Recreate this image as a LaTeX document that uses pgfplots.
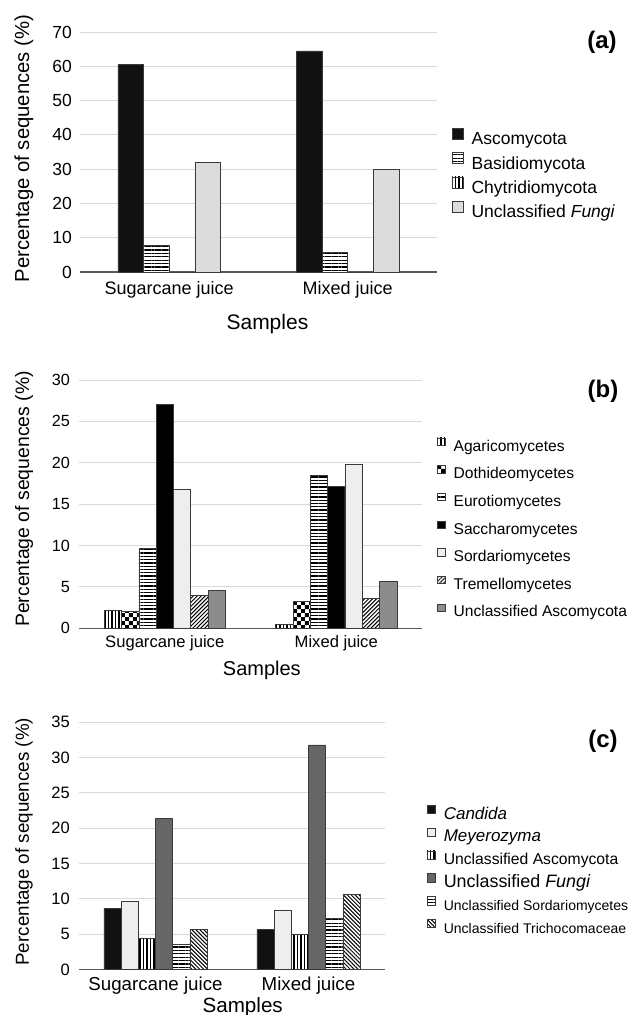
\documentclass[border=0pt]{standalone}
\usepackage{fontspec}
\setmainfont{Liberation Sans}
\usepackage{pgfplots}
\pgfplotsset{compat=1.18}
\usetikzlibrary{patterns,patterns.meta}

\definecolor{gridc}{HTML}{D9D9D9}
\definecolor{edge}{HTML}{3A3A3A}
\definecolor{cblack}{HTML}{111111}
\definecolor{clight}{HTML}{DCDCDC}
\definecolor{cvlight}{HTML}{EEEEEE}
\definecolor{cmid}{HTML}{8C8C8C}
\definecolor{cdark}{HTML}{666666}

\tikzdeclarepattern{
  name=mychecker,
  type=uncolored,
  bounding box={(0pt,0pt) and (8.4pt,8.4pt)},
  tile size={(8.4pt,8.4pt)},
  code={
    \pgfpathrectangle{\pgfpointorigin}{\pgfqpoint{4.2pt}{4.2pt}}
    \pgfpathrectangle{\pgfqpoint{4.2pt}{4.2pt}}{\pgfqpoint{4.2pt}{4.2pt}}
    \pgfusepath{fill}
  }
}

\newcommand{\fs}[1]{\fontsize{#1}{#1}\selectfont}

\pgfplotsset{
  panel/.style={
    scale only axis, ybar=0pt, ymin=0, xmin=-0.5, xmax=1.5,
    xtick={0,1}, xticklabels={Sugarcane juice, Mixed juice},
    axis x line=bottom, axis y line=left, axis line style={-},
    x axis line style={draw=black!65, line width=1.2pt},
    y axis line style={draw=none},
    major tick length=0pt,
    ymajorgrids, grid style={draw=gridc, line width=0.9pt},
    /pgf/number format/assume math mode=true,
    xticklabel style={anchor=base, inner sep=0pt},
    yticklabel style={anchor=east, inner sep=0pt},
    xlabel={Samples}, ylabel={Percentage of sequences (\%)},
    legend style={draw=none, fill=none, inner sep=0pt, outer sep=0pt,
      at={(axis description cs:0,0)}, anchor=north west,
      nodes={inner sep=0pt}},
    legend cell align=left,
  },
  solid/.style={fill=#1, draw=edge, line width=0.6pt},
  pat/.style={fill=white, draw=edge, line width=0.6pt,
    postaction={pattern={#1}, pattern color=black, draw=edge, line width=0.6pt}},
}

\begin{document}
\begin{tikzpicture}
\useasboundingbox (0pt,0pt) rectangle (629pt,-1015pt);

% ---------------- (a)
\begin{axis}[panel,
  at={(80pt,-272pt)}, anchor=south west, width=357pt, height=240pt,
  ymax=70, ytick={0,10,...,70}, bar width=25.7pt,
  xticklabel style={font=\fs{18}, yshift=-22.5pt},
  yticklabel style={font=\fs{17.5}, xshift=-8pt},
  every axis x label/.style={at={(axis description cs:0.525,-0.240)}, anchor=base, inner sep=0pt, font=\fs{21}},
  every axis y label/.style={at={(axis description cs:-0.157,0.515)}, rotate=90, anchor=center, inner sep=0pt, font=\fs{20.3}},
  legend image code/.code={\draw[#1] (0pt,0.8pt) rectangle (11pt,11.8pt);},
  legend style={xshift=372pt, yshift=143.7pt, font=\fs{17.5}, row sep=4pt, column sep=8pt,
    nodes={text height=12.5pt, text depth=3.5pt}},
]
\addplot[solid=cblack] coordinates {(0,60.5) (1,64.5)};
\addplot[pat={Lines[angle=0,distance=3.4pt,line width=1.3pt]}] coordinates {(0,7.9) (1,5.7)};
\addplot[pat={Lines[angle=90,distance=3.4pt,line width=1.3pt]}] coordinates {(0,0) (1,0)};
\addplot[solid=clight] coordinates {(0,32.0) (1,30.0)};
\legend{Ascomycota, Basidiomycota, Chytridiomycota, Unclassified \textit{Fungi}}
\end{axis}

% ---------------- (b)
\begin{axis}[panel,
  at={(79pt,-628.3pt)}, anchor=south west, width=343pt, height=248.3pt,
  ymax=30, ytick={0,5,...,30}, bar width=17.3pt,
  xticklabel style={font=\fs{16.6}, yshift=-19.4pt},
  yticklabel style={font=\fs{16.2}, xshift=-9pt},
  every axis x label/.style={at={(axis description cs:0.533,-0.190)}, anchor=base, inner sep=0pt, font=\fs{20}},
  every axis y label/.style={at={(axis description cs:-0.160,0.521)}, rotate=90, anchor=center, inner sep=0pt, font=\fs{19.4}},
  legend image code/.code={\draw[#1] (0pt,1.9pt) rectangle (7.5pt,9.4pt);},
  legend style={xshift=358pt, yshift=190.7pt, font=\fs{15.6}, row sep=10.7pt, column sep=8.5pt,
    nodes={text height=11pt, text depth=3.5pt}},
]
\addplot[pat={Lines[angle=90,distance=3.5pt,line width=1.2pt]}] coordinates {(0,2.15) (1,0.48)};
\addplot[pat={mychecker}] coordinates {(0,2.0) (1,3.22)};
\addplot[pat={Lines[angle=0,distance=3.3pt,line width=1.3pt]}] coordinates {(0,9.66) (1,18.44)};
\addplot[solid=black] coordinates {(0,27.05) (1,17.19)};
\addplot[solid=cvlight] coordinates {(0,16.83) (1,19.8)};
\addplot[pat={Lines[angle=45,distance=2.8pt,line width=1pt]}] coordinates {(0,3.99) (1,3.58)};
\addplot[solid=cmid] coordinates {(0,4.55) (1,5.64)};
\legend{Agaricomycetes, Dothideomycetes, Eurotiomycetes, Saccharomycetes, Sordariomycetes, Tremellomycetes, Unclassified Ascomycota}
\end{axis}

% ---------------- (c)
\begin{axis}[panel,
  at={(79pt,-969.5pt)}, anchor=south west, width=306pt, height=247.2pt,
  ymax=35, ytick={0,5,...,35}, bar width=17.2pt,
  xticklabel style={font=\fs{18.7}, yshift=-20.5pt},
  yticklabel style={font=\fs{16.5}, xshift=-9pt},
  every axis x label/.style={at={(axis description cs:0.535,-0.172)}, anchor=base, inner sep=0pt, font=\fs{20.6}},
  every axis y label/.style={at={(axis description cs:-0.180,0.517)}, rotate=90, anchor=center, inner sep=0pt, font=\fs{18.8}},
  legend image code/.code={\draw[#1] (0pt,1.5pt) rectangle (8.3pt,9.8pt);},
  legend style={xshift=347.7pt, yshift=164.5pt, font=\fs{15.7}, row sep=4.7pt, column sep=8.2pt,
    nodes={text height=12pt, text depth=4pt}},
]
\addplot[solid=cblack] coordinates {(0,8.6) (1,5.65)};
\addplot[solid=cvlight] coordinates {(0,9.65) (1,8.45)};
\addplot[pat={Lines[angle=90,distance=3.5pt,line width=1.2pt]}] coordinates {(0,4.35) (1,5.0)};
\addplot[solid=cdark] coordinates {(0,21.4) (1,31.8)};
\addplot[pat={Lines[angle=0,distance=3.4pt,line width=1.3pt]}] coordinates {(0,3.52) (1,7.2)};
\addplot[pat={Lines[angle=-45,distance=2.8pt,line width=1pt]}] coordinates {(0,5.7) (1,10.65)};
\legend{{\fs{17}\itshape Candida}, {\fs{17}\itshape Meyerozyma}, Unclassified Ascomycota, {\fs{17.9}Unclassified \textit{Fungi}}, {\fs{14}Unclassified Sordariomycetes}, {\fs{14}Unclassified Trichocomaceae}}
\end{axis}

\node[font=\bfseries\fs{24}] at (602pt,-42pt) {(a)};
\node[font=\bfseries\fs{24}] at (603pt,-391.7pt) {(b)};
\node[font=\bfseries\fs{24}] at (603pt,-741.7pt) {(c)};
\end{tikzpicture}
\end{document}
